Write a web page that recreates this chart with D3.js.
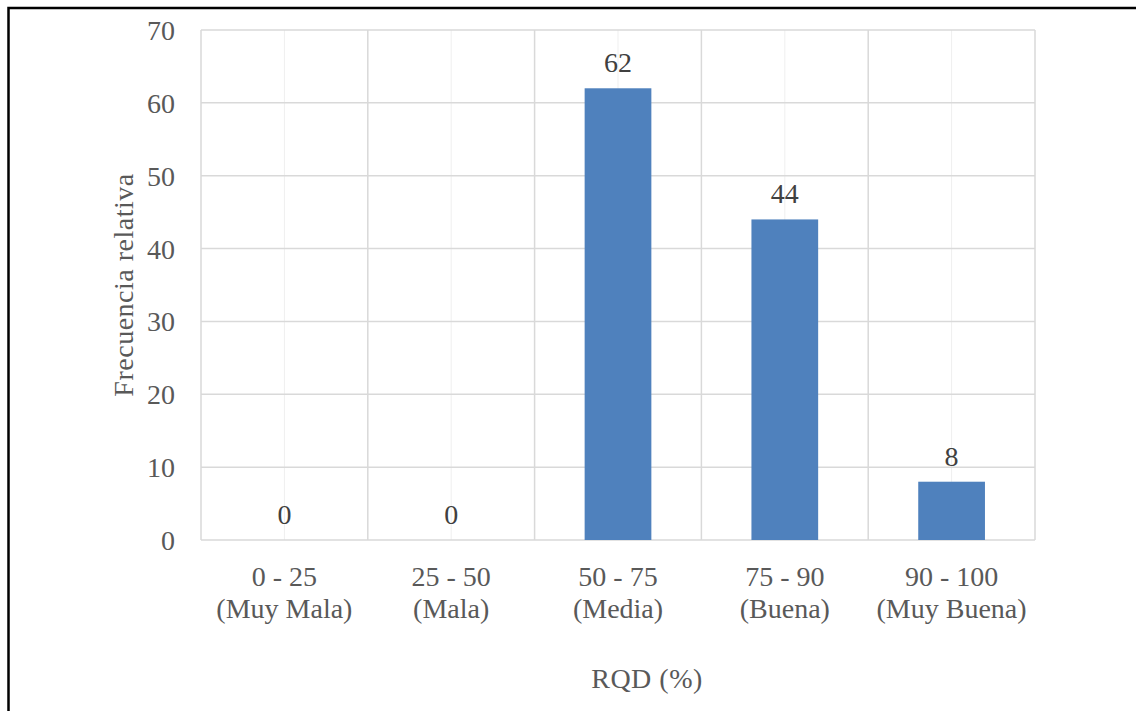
<!DOCTYPE html>
<html>
<head>
<meta charset="utf-8">
<script src="https://cdn.jsdelivr.net/npm/d3@7"></script>
<style>
  html, body { margin: 0; padding: 0; background: #fff; }
  svg { display: block; }
  text { font-family: "Liberation Serif", "Times New Roman", serif; }
</style>
</head>
<body>
<svg id="chart" width="1136" height="711"></svg>
<script>
// RQD classes (range + rock quality) and their relative frequency
const rangeLabels = ["0 - 25", "25 - 50", "50 - 75", "75 - 90", "90 - 100"];
const qualityLabels = ["(Muy Mala)", "(Mala)", "(Media)", "(Buena)", "(Muy Buena)"];
const frequency = [0, 0, 62, 44, 8];
const yTicks = [0, 10, 20, 30, 40, 50, 60, 70];

const svg = d3.select("#chart");
const W = 1136, H = 711;
const plot = { left: 201, top: 30, right: 1035, bottom: 540 };
const FS = 28;

// outer frame (runs past the right and bottom edges)
svg.append("rect")
  .attr("x", 8.5).attr("y", 8)
  .attr("width", W + 20).attr("height", H + 20)
  .attr("fill", "none").attr("stroke", "#000").attr("stroke-width", 2.5);

const x = d3.scaleBand()
  .domain(rangeLabels)
  .range([plot.left, plot.right])
  .paddingInner(0).paddingOuter(0);

const y = d3.scaleLinear().domain([0, 70]).range([plot.bottom, plot.top]);

const g = svg.append("g");

// faint lines at category centres
g.selectAll("line.mid").data(rangeLabels).join("line")
  .attr("class", "mid")
  .attr("x1", d => x(d) + x.bandwidth() / 2).attr("x2", d => x(d) + x.bandwidth() / 2)
  .attr("y1", plot.top).attr("y2", plot.bottom)
  .attr("stroke", "#efefef").attr("stroke-width", 1);

// horizontal gridlines
g.selectAll("line.hgrid").data(yTicks).join("line")
  .attr("class", "hgrid")
  .attr("x1", plot.left).attr("x2", plot.right)
  .attr("y1", d => y(d)).attr("y2", d => y(d))
  .attr("stroke", "#d9d9d9").attr("stroke-width", 1.5);

// vertical gridlines at category boundaries
const bounds = rangeLabels.map(d => x(d)).concat([plot.right]);
g.selectAll("line.vgrid").data(bounds).join("line")
  .attr("class", "vgrid")
  .attr("x1", d => d).attr("x2", d => d)
  .attr("y1", plot.top).attr("y2", plot.bottom)
  .attr("stroke", "#d9d9d9").attr("stroke-width", 1.5);

// bars
const barW = x.bandwidth() * 0.4;
g.selectAll("rect.bar").data(frequency).join("rect")
  .attr("class", "bar")
  .attr("x", (d, i) => x(rangeLabels[i]) + (x.bandwidth() - barW) / 2)
  .attr("y", d => y(d))
  .attr("width", barW)
  .attr("height", d => y(0) - y(d))
  .attr("fill", "#4f81bd");

// value labels
g.selectAll("text.val").data(frequency).join("text")
  .attr("class", "val")
  .attr("x", (d, i) => x(rangeLabels[i]) + x.bandwidth() / 2)
  .attr("y", d => y(d) - 16)
  .attr("text-anchor", "middle")
  .attr("font-size", FS)
  .attr("fill", "#404040")
  .text(d => d);

// y tick labels
g.selectAll("text.ytick").data(yTicks).join("text")
  .attr("class", "ytick")
  .attr("x", 175)
  .attr("y", d => y(d) + 10)
  .attr("text-anchor", "end")
  .attr("font-size", FS)
  .attr("fill", "#595959")
  .text(d => d);

// category labels (two lines)
const cat = g.selectAll("text.cat").data(rangeLabels).join("text")
  .attr("class", "cat")
  .attr("text-anchor", "middle")
  .attr("font-size", FS)
  .attr("fill", "#595959");
cat.append("tspan")
  .attr("x", d => x(d) + x.bandwidth() / 2).attr("y", 586)
  .text(d => d);
cat.append("tspan")
  .attr("x", d => x(d) + x.bandwidth() / 2).attr("y", 618)
  .text((d, i) => qualityLabels[i]);

// axis titles
svg.append("text")
  .attr("x", 647).attr("y", 688)
  .attr("text-anchor", "middle")
  .attr("font-size", FS).attr("fill", "#595959")
  .attr("letter-spacing", 0.5)
  .text("RQD (%)");

svg.append("text")
  .attr("transform", `translate(133, ${(plot.top + plot.bottom) / 2}) rotate(-90)`)
  .attr("text-anchor", "middle")
  .attr("font-size", FS).attr("fill", "#595959")
  .attr("letter-spacing", 0.5)
  .text("Frecuencia relativa");
</script>
</body>
</html>
